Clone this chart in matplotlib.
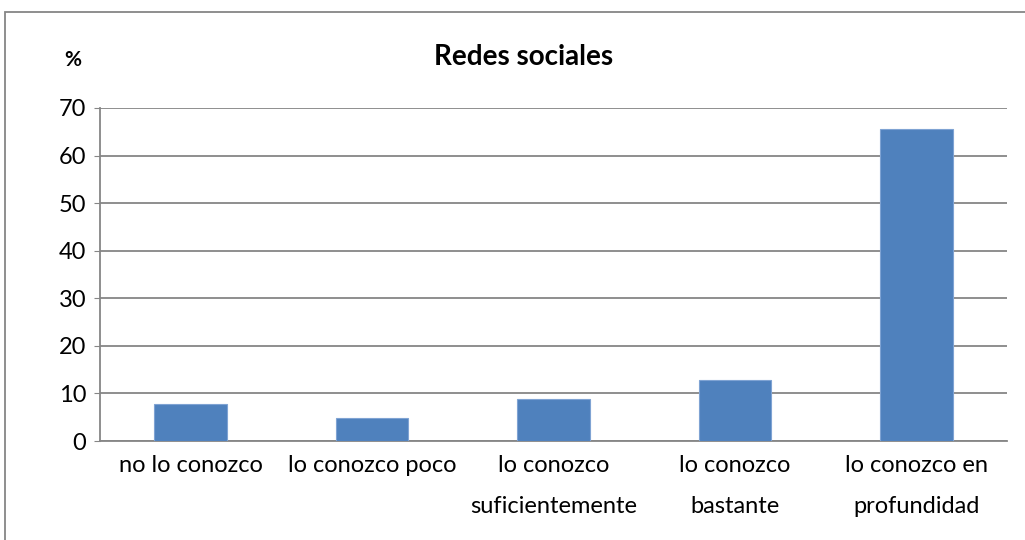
import matplotlib.pyplot as plt
from matplotlib.patches import Rectangle

categories = ['no lo conozco', 'lo conozco poco', 'lo conozco\nsuficientemente',
              'lo conozco\nbastante', 'lo conozco en\nprofundidad']
values = [7.8, 4.8, 8.8, 12.8, 65.6]
yticks = [0, 10, 20, 30, 40, 50, 60, 70]

plt.rcParams['font.family'] = ['Lato', 'DejaVu Sans']

fig = plt.figure(figsize=(10.25, 5.4), dpi=100)
ax = fig.add_axes([100 / 1025, 1 - 441 / 540, 907 / 1025, 333 / 540])

x = list(range(len(categories)))
ax.bar(x, values, width=0.4, color='#4F81BD', edgecolor='#7FA3D3', linewidth=0.8, zorder=3)

ax.set_xlim(-0.5, len(categories) - 0.5)
ax.set_ylim(0, 70)
ax.set_yticks(yticks)
ax.set_xticks(x)
ax.set_xticklabels(categories, fontsize=17, linespacing=2.2)
ax.tick_params(axis='y', labelsize=17, length=4, color='#868686', pad=6)
ax.tick_params(axis='x', length=0, pad=10)
ax.yaxis.grid(True, color='#868686', linewidth=1.3, zorder=0)

for s in ['top', 'right']:
    ax.spines[s].set_visible(False)
for s in ['left', 'bottom']:
    ax.spines[s].set_color('#868686')
    ax.spines[s].set_linewidth(1.3)

fig.text(524 / 1025, 1 - 57 / 540, 'Redes sociales', ha='center', va='center',
         fontsize=20, fontweight='bold')
fig.text(73 / 1025, 1 - 60 / 540, '%', ha='center', va='center',
         fontsize=15, fontweight='bold')

# outer chart border
fig.patches.append(Rectangle((5 / 1025, -0.1), 1.2, 1 - 12 / 540 + 0.1,
                             transform=fig.transFigure, fill=False,
                             edgecolor='#868686', linewidth=1.3))

fig.savefig('out.png', dpi=100)
